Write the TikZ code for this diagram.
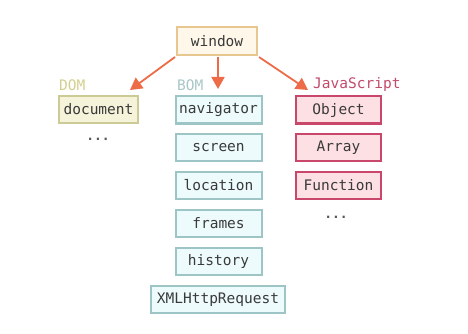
\documentclass[tikz,border=0pt]{standalone}
\usepackage{fontspec}
\setmonofont{DejaVu Sans Mono}
\usetikzlibrary{arrows.meta}
\definecolor{txt}{HTML}{3A3A3A}
\definecolor{arrowc}{HTML}{EE6B47}
\definecolor{winfill}{HTML}{FFF8EA}
\definecolor{windraw}{HTML}{E8C68F}
\definecolor{domfill}{HTML}{F5F3DA}
\definecolor{domdraw}{HTML}{CCCB96}
\definecolor{bomfill}{HTML}{EEFBFC}
\definecolor{bomdraw}{HTML}{9DC5C6}
\definecolor{jsfill}{HTML}{FDE0E3}
\definecolor{jsdraw}{HTML}{C9476A}
\definecolor{domlab}{HTML}{D3CF8E}
\definecolor{bomlab}{HTML}{A8C6C7}
\definecolor{jslab}{HTML}{C34A6B}
\tikzset{
  box/.style={draw, line width=2pt, minimum height=27pt, inner sep=0pt,
    font=\ttfamily\fontsize{14.5}{16}\selectfont, text=txt},
  winbox/.style={box, fill=winfill, draw=windraw, minimum width=80pt, minimum height=28pt},
  dombox/.style={box, fill=domfill, draw=domdraw, minimum width=79pt},
  bombox/.style={box, fill=bomfill, draw=bomdraw, minimum width=86pt},
  jsbox/.style={box, fill=jsfill, draw=jsdraw, minimum width=85pt},
  lab/.style={anchor=west, inner sep=0pt, font=\ttfamily\fontsize{14.5}{16}\selectfont},
  dots/.style={inner sep=0pt, font=\ttfamily\bfseries\fontsize{13}{15}\selectfont, text=txt!85},
  arr/.style={draw=arrowc, line width=1.8pt, -{Triangle[length=12pt,width=13pt]}, fill=arrowc}
}
\begin{document}
\begin{tikzpicture}[x=1pt,y=-1pt]
\useasboundingbox (0,0) rectangle (468,334);
\node[winbox] (window) at (217,41) {window};
\node[dombox] (document) at (98.5,109.5) {document};
\node[lab, text=domlab] (domlab) at (59,85) {DOM};
\node[dots] (domdots) at (98,139) {...};
\node[lab, text=bomlab] (bomlab) at (177,85) {BOM};
\node[bombox] (navigator) at (218.5,110) {navigator};
\node[bombox] (screen) at (218.5,147.5) {screen};
\node[bombox] (location) at (218.5,185.5) {location};
\node[bombox] (frames) at (218.5,223.5) {frames};
\node[bombox] (history) at (218.5,261.5) {history};
\node[bombox, minimum width=134pt] (xhr) at (218,299.5) {XMLHttpRequest};
\node[lab, text=jslab] (jslab) at (313,85) {JavaScript};
\node[jsbox] (object) at (338.5,110) {Object};
\node[jsbox] (array) at (338.5,147.5) {Array};
\node[jsbox] (function) at (338.5,185.5) {Function};
\node[dots] (jsdots) at (336,217) {...};
\coordinate (s1) at (175,57);
\coordinate (t1) at (130,90);
\coordinate (s2) at (218,57);
\coordinate (t2) at (218,89);
\coordinate (s3) at (259,57);
\coordinate (t3) at (308,90);
\draw[arr] (s1) -- (t1);
\draw[arr] (s2) -- (t2);
\draw[arr] (s3) -- (t3);
\end{tikzpicture}
\end{document}
